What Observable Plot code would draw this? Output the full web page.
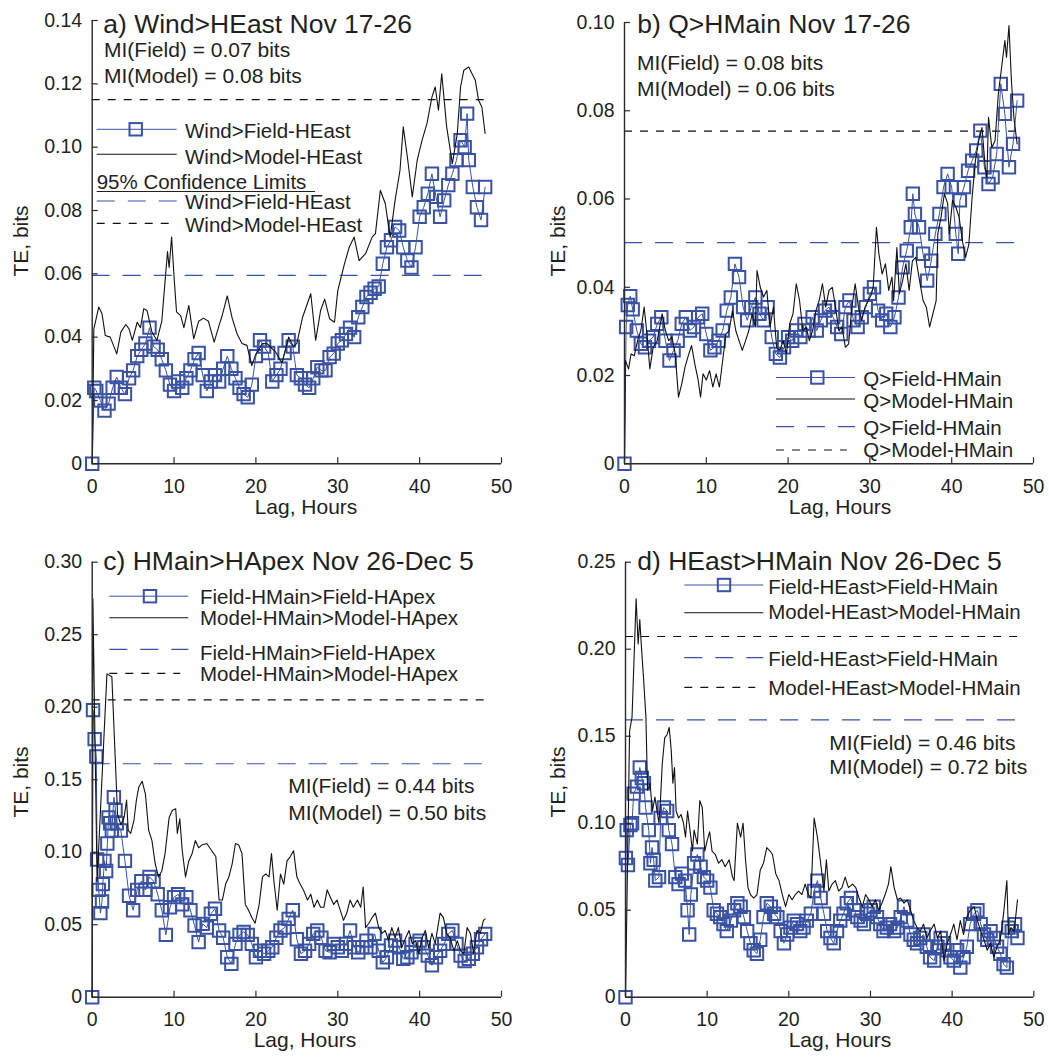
<!DOCTYPE html>
<html>
<head>
<meta charset="utf-8">
<script src="https://cdn.jsdelivr.net/npm/d3@7"></script>
<script src="https://cdn.jsdelivr.net/npm/@observablehq/plot@0.6"></script>
<style>
  html, body { margin: 0; padding: 0; background: #fff; }
  #wrap { position: relative; width: 1049px; height: 1059px; overflow: hidden; background: #fff; }
  .panel { position: absolute; }
  .panel svg { display: block; }
</style>
</head>
<body>
<div id="wrap"></div>
<script>
// ---------------- DATA ----------------
const lagTicks = [0, 10, 20, 30, 40, 50];
const yTicksA = [0, 0.02, 0.04, 0.06, 0.08, 0.10, 0.12, 0.14];
const yTicksB = [0, 0.02, 0.04, 0.06, 0.08, 0.10];
const yTicksC = [0, 0.05, 0.10, 0.15, 0.20, 0.25, 0.30];
const yTicksD = [0, 0.05, 0.10, 0.15, 0.20, 0.25];

const titles = ["a) Wind>HEast Nov 17-26", "b) Q>HMain Nov 17-26", "c) HMain>HApex Nov 26-Dec 5", "d) HEast>HMain Nov 26-Dec 5"];
const miField = ["MI(Field) = 0.07 bits", "MI(Field) = 0.08 bits", "MI(Field) = 0.44 bits", "MI(Field) = 0.46 bits"];
const miModel = ["MI(Model) = 0.08 bits", "MI(Model) = 0.06 bits", "MI(Model) = 0.50 bits", "MI(Model) = 0.72 bits"];
const legendA = ["Wind>Field-HEast", "Wind>Model-HEast", "Wind>Field-HEast", "Wind>Model-HEast"];
const legendB = ["Q>Field-HMain", "Q>Model-HMain", "Q>Field-HMain", "Q>Model-HMain"];
const legendC = ["Field-HMain>Field-HApex", "Model-HMain>Model-HApex", "Field-HMain>Field-HApex", "Model-HMain>Model-HApex"];
const legendD = ["Field-HEast>Field-HMain", "Model-HEast>Model-HMain", "Field-HEast>Field-HMain", "Model-HEast>Model-HMain"];
const confHeading = "95% Confidence Limits";
const xLabel = "Lag, Hours";
const yLabel = "TE, bits";

// 95% confidence limits [panel a, b, c, d]
const ciField = [0.0595, 0.0501, 0.161, 0.1594];
const ciModel = [0.115, 0.0754, 0.2051, 0.2073];

// [lag hours, TE bits]
const fieldA = [[0,0],[0.25,0.024],[0.5,0.023],[1,0.020],[1.5,0.0168],[2,0.019],[2.5,0.024],[3,0.0274],[3.5,0.024],[4,0.022],[4.5,0.027],[5,0.0295],[5.5,0.034],[6,0.036],[6.5,0.038],[7,0.043],[7.5,0.037],[8,0.036],[8.5,0.033],[9,0.0295],[9.5,0.025],[10,0.023],[10.5,0.026],[11,0.024],[11.5,0.027],[12,0.0295],[12.5,0.033],[13,0.035],[13.5,0.028],[14,0.023],[14.5,0.026],[15,0.028],[15.5,0.026],[16,0.030],[16.5,0.034],[17,0.030],[17.5,0.027],[18,0.024],[18.5,0.022],[19,0.021],[19.5,0.025],[20,0.034],[20.5,0.039],[21,0.037],[21.5,0.035],[22,0.026],[22.5,0.028],[23,0.030],[23.5,0.035],[24,0.039],[24.5,0.037],[25,0.028],[25.5,0.027],[26,0.025],[26.5,0.024],[27,0.027],[27.5,0.0305],[28,0.0295],[28.5,0.0295],[29,0.0337],[29.5,0.0348],[30,0.038],[30.5,0.039],[31,0.041],[31.5,0.043],[32,0.040],[32.5,0.0463],[33,0.0495],[33.5,0.0527],[34,0.054],[34.5,0.0553],[35,0.056],[35.5,0.0632],[36,0.0684],[36.5,0.0706],[37,0.0748],[37.5,0.0737],[38,0.0684],[38.5,0.0642],[39,0.062],[39.5,0.0684],[40,0.078],[40.5,0.081],[41,0.0853],[41.5,0.0916],[42,0.0843],[42.5,0.078],[43,0.0832],[43.5,0.088],[44,0.0916],[44.5,0.0959],[45,0.1022],[45.5,0.100],[45.8,0.1106],[46,0.0959],[46.5,0.0874],[47,0.081],[47.5,0.077],[48,0.0874]];
const modelA = [[0,0],[0.2,0.0426],[0.8,0.0495],[1.2,0.0474],[1.6,0.0405],[2.2,0.040],[3.0,0.0347],[3.5,0.0416],[4.1,0.044],[4.5,0.0426],[4.9,0.039],[5.5,0.0447],[5.9,0.043],[6.3,0.049],[6.7,0.0484],[7.3,0.0416],[7.9,0.039],[8.5,0.045],[9.2,0.067],[9.4,0.062],[9.7,0.0716],[10.0,0.059],[10.3,0.048],[10.8,0.0468],[11.2,0.043],[11.8,0.050],[12.4,0.0395],[13.0,0.045],[13.6,0.046],[14.2,0.045],[14.9,0.0384],[15.5,0.0437],[15.9,0.047],[16.5,0.053],[17.1,0.046],[17.7,0.041],[18.3,0.038],[18.9,0.0374],[19.5,0.031],[20.0,0.0347],[20.8,0.038],[21.4,0.0379],[22.4,0.0353],[23.0,0.0326],[23.2,0.032],[24.0,0.040],[24.6,0.037],[25.0,0.038],[25.7,0.0463],[26.7,0.0537],[27.3,0.039],[27.9,0.0484],[28.4,0.052],[29.0,0.0458],[29.6,0.0447],[30.0,0.0547],[30.8,0.063],[31.4,0.0684],[32.0,0.0716],[32.6,0.0642],[33.4,0.0664],[34.2,0.0716],[34.6,0.0727],[35.2,0.0864],[35.8,0.0822],[36.4,0.0716],[37.0,0.0832],[37.6,0.0927],[38.0,0.1064],[38.5,0.0969],[39.1,0.0843],[39.7,0.0958],[40.3,0.1022],[40.9,0.1075],[41.5,0.1158],[41.9,0.119],[42.3,0.1117],[42.7,0.1232],[43.3,0.1064],[44.0,0.0948],[44.6,0.1043],[45.0,0.119],[45.4,0.1243],[46.0,0.1253],[46.4,0.1232],[46.8,0.1211],[47.2,0.1148],[47.6,0.1127],[48.0,0.1043]];

const fieldB = [[0,0],[0.2,0.031],[0.4,0.036],[0.7,0.038],[1,0.035],[1.5,0.0302],[2,0.0272],[2.5,0.0264],[3,0.0279],[3.5,0.0287],[4,0.0317],[4.5,0.0332],[5,0.0279],[5.5,0.0234],[6,0.0257],[6.5,0.0279],[7,0.0317],[7.5,0.0332],[8,0.0302],[8.5,0.031],[9,0.0332],[9.5,0.034],[10,0.0294],[10.5,0.0257],[11,0.0264],[11.5,0.0279],[12,0.0302],[12.5,0.0347],[13,0.0377],[13.5,0.0453],[14,0.0423],[14.5,0.0355],[15,0.0325],[15.5,0.0355],[16,0.0377],[16.5,0.034],[17,0.0325],[17.5,0.0355],[18,0.0287],[18.5,0.0249],[19,0.0241],[19.5,0.0264],[20,0.0287],[20.5,0.0279],[21,0.0302],[21.5,0.0287],[22,0.0317],[22.5,0.0302],[23,0.0332],[23.5,0.0302],[24,0.0325],[24.5,0.0347],[25,0.0355],[25.5,0.0332],[26,0.031],[26.5,0.0294],[27,0.0355],[27.5,0.037],[28,0.0325],[28.5,0.031],[29,0.0332],[29.5,0.0355],[30,0.0385],[30.5,0.040],[31,0.0347],[31.5,0.0325],[32,0.034],[32.5,0.031],[33,0.0332],[33.5,0.0377],[34,0.0445],[34.5,0.0483],[35,0.0536],[35.25,0.0612],[35.5,0.0566],[36,0.0536],[36.5,0.0476],[37,0.0415],[37.5,0.046],[38,0.0521],[38.5,0.0566],[39,0.0627],[39.5,0.0657],[40,0.0627],[40.5,0.0521],[40.8,0.0476],[41,0.0597],[41.5,0.0627],[42,0.0664],[42.5,0.0687],[43,0.071],[43.5,0.0755],[44,0.0672],[44.5,0.0634],[45,0.0649],[45.5,0.0702],[46,0.0861],[46.5,0.0793],[47,0.0672],[47.5,0.0725],[48,0.0823]];
const modelB = [[0,0],[0.1,0.0234],[0.5,0.0215],[0.8,0.0249],[1.2,0.0245],[1.6,0.0279],[2.0,0.0302],[2.4,0.0355],[2.7,0.0302],[3.1,0.0215],[3.5,0.0264],[4.0,0.0279],[4.6,0.034],[5.0,0.0302],[5.4,0.0279],[5.8,0.0287],[6.2,0.0249],[6.6,0.0151],[7.0,0.0181],[7.4,0.0219],[7.8,0.0245],[8.2,0.0268],[8.6,0.0226],[9.0,0.019],[9.3,0.0151],[9.6,0.0204],[10.0,0.019],[10.4,0.0211],[10.8,0.0174],[11.2,0.0204],[11.6,0.0174],[12.0,0.0234],[12.4,0.0294],[12.8,0.0302],[13.2,0.0347],[13.6,0.0302],[14.0,0.0279],[14.4,0.0257],[14.8,0.0279],[15.2,0.0302],[15.6,0.034],[16.0,0.031],[16.2,0.0438],[16.6,0.040],[17.0,0.0378],[17.4,0.0393],[17.8,0.031],[18.2,0.0355],[18.6,0.0264],[19.0,0.0257],[19.4,0.0279],[19.8,0.0249],[20.2,0.0317],[20.6,0.034],[21.0,0.0408],[21.4,0.037],[21.8,0.0302],[22.2,0.031],[22.6,0.0279],[23.0,0.0302],[23.4,0.0347],[23.8,0.037],[24.2,0.0408],[24.6,0.0355],[25.0,0.0393],[25.4,0.040],[25.8,0.0355],[26.2,0.0302],[26.6,0.031],[27.0,0.0264],[27.4,0.0272],[27.8,0.0355],[28.2,0.0408],[28.6,0.0355],[29.0,0.0325],[29.4,0.0355],[29.8,0.037],[30.2,0.0385],[30.4,0.040],[30.8,0.0536],[31.1,0.0476],[31.5,0.043],[31.9,0.0453],[32.3,0.0393],[32.7,0.0423],[32.9,0.037],[33.3,0.049],[33.6,0.0385],[34.0,0.0415],[34.4,0.0453],[34.8,0.0393],[35.2,0.046],[35.6,0.0468],[36.0,0.0423],[36.5,0.037],[36.9,0.0355],[37.3,0.031],[37.7,0.034],[38.1,0.037],[38.3,0.0521],[38.7,0.0559],[39.1,0.0612],[39.5,0.059],[39.7,0.0521],[40.1,0.0597],[40.5,0.0582],[40.9,0.0559],[41.3,0.0506],[41.7,0.0468],[42.1,0.0498],[42.5,0.0605],[42.9,0.0687],[43.3,0.0732],[43.7,0.0762],[44.1,0.0672],[44.3,0.0649],[44.5,0.0785],[44.9,0.0717],[45.3,0.0732],[45.7,0.0838],[46.1,0.0898],[46.5,0.0959],[46.7,0.0921],[47.0,0.0993],[47.3,0.0868],[47.6,0.0785],[48.0,0.0725]];

const fieldC = [[0,0],[0.1,0.198],[0.3,0.178],[0.5,0.166],[0.6,0.095],[0.8,0.074],[1.0,0.058],[1.2,0.066],[1.3,0.078],[1.5,0.094],[1.7,0.087],[1.85,0.106],[2.0,0.124],[2.2,0.12],[2.4,0.115],[2.65,0.138],[2.85,0.129],[3.0,0.120],[3.5,0.115],[4.0,0.094],[4.5,0.070],[5.0,0.060],[5.5,0.074],[6.0,0.080],[6.5,0.074],[7.0,0.083],[7.5,0.080],[8.0,0.071],[8.5,0.060],[9.0,0.043],[9.5,0.062],[10.0,0.069],[10.5,0.071],[11.0,0.064],[11.5,0.069],[12.0,0.060],[12.5,0.0495],[13.0,0.038],[13.5,0.0506],[14.0,0.048],[14.5,0.0575],[15.0,0.061],[15.5,0.046],[16.0,0.041],[16.5,0.0276],[17.0,0.023],[17.5,0.0368],[18.0,0.043],[18.5,0.045],[19.0,0.043],[19.5,0.0368],[20.0,0.0276],[20.5,0.032],[21.0,0.030],[21.5,0.032],[22.0,0.0345],[22.5,0.041],[23.0,0.046],[23.5,0.048],[24.0,0.054],[24.5,0.060],[25.0,0.040],[25.5,0.030],[26.0,0.032],[26.5,0.0368],[27.0,0.0437],[27.5,0.046],[28.0,0.041],[28.5,0.032],[29.0,0.031],[29.5,0.0368],[30.0,0.0345],[30.5,0.032],[31.0,0.0368],[31.5,0.046],[32.0,0.0345],[32.5,0.031],[33.0,0.0345],[33.5,0.039],[34.0,0.0345],[34.5,0.0437],[35.0,0.032],[35.5,0.024],[36.0,0.0276],[36.5,0.0357],[37.0,0.039],[37.5,0.0345],[38.0,0.0265],[38.5,0.0276],[39.0,0.031],[39.5,0.0368],[40.0,0.039],[40.5,0.0345],[41.0,0.0287],[41.5,0.022],[42.0,0.0276],[42.5,0.032],[43.0,0.0368],[43.5,0.0437],[44.0,0.046],[44.5,0.0368],[45.0,0.0287],[45.5,0.025],[46.0,0.0265],[46.5,0.030],[47.0,0.0345],[47.5,0.040],[48.0,0.0437]];
const modelC = [[0,0],[0.08,0.275],[0.6,0.080],[1.8,0.223],[2.4,0.221],[3.1,0.126],[3.5,0.119],[3.9,0.124],[4.2,0.136],[4.4,0.115],[4.7,0.113],[5.1,0.122],[5.4,0.136],[5.7,0.145],[6.1,0.149],[6.5,0.140],[6.9,0.115],[7.3,0.108],[7.7,0.092],[8.1,0.083],[8.5,0.087],[8.9,0.099],[9.4,0.124],[9.8,0.129],[10.2,0.130],[10.4,0.113],[10.7,0.123],[11.0,0.101],[11.4,0.083],[11.8,0.094],[12.2,0.099],[12.6,0.108],[13.0,0.103],[13.4,0.105],[14.0,0.106],[14.6,0.101],[15.1,0.097],[15.5,0.067],[15.9,0.067],[16.3,0.078],[16.7,0.083],[17.1,0.092],[17.5,0.106],[17.9,0.105],[18.3,0.099],[18.7,0.064],[19.1,0.060],[19.5,0.055],[19.9,0.051],[20.4,0.064],[20.8,0.083],[21.2,0.085],[21.6,0.083],[21.9,0.099],[22.2,0.080],[22.6,0.060],[23.0,0.085],[23.4,0.078],[23.8,0.094],[24.2,0.097],[24.6,0.101],[25.0,0.083],[25.4,0.078],[25.8,0.074],[26.3,0.067],[26.7,0.071],[27.1,0.062],[27.5,0.067],[27.9,0.062],[28.3,0.062],[28.7,0.074],[29.1,0.069],[29.5,0.064],[29.9,0.067],[30.3,0.060],[30.7,0.053],[31.1,0.058],[31.5,0.067],[31.9,0.062],[32.4,0.067],[32.8,0.062],[33.1,0.076],[33.4,0.048],[33.8,0.051],[34.2,0.055],[34.6,0.058],[35.0,0.048],[35.4,0.044],[35.8,0.046],[36.2,0.039],[36.6,0.048],[37.0,0.041],[37.4,0.048],[37.8,0.034],[38.3,0.041],[38.7,0.046],[39.1,0.037],[39.5,0.039],[39.9,0.030],[40.3,0.041],[40.7,0.046],[41.1,0.034],[41.5,0.044],[41.9,0.037],[42.5,0.058],[42.9,0.055],[43.3,0.044],[43.7,0.041],[44.2,0.032],[44.6,0.039],[45.0,0.032],[45.4,0.030],[45.8,0.048],[46.2,0.044],[46.6,0.030],[47.0,0.046],[47.4,0.044],[47.8,0.053],[48.0,0.054]];

const fieldD = [[0,0],[0.05,0.080],[0.15,0.096],[0.3,0.076],[0.6,0.099],[0.8,0.100],[1.0,0.117],[1.4,0.121],[1.75,0.132],[2.0,0.126],[2.25,0.123],[2.45,0.109],[2.85,0.096],[3.05,0.077],[3.25,0.086],[3.45,0.079],[3.65,0.067],[4.1,0.069],[4.3,0.103],[4.7,0.109],[5.1,0.107],[5.3,0.096],[5.7,0.088],[6.1,0.069],[6.5,0.065],[6.9,0.071],[7.3,0.067],[7.6,0.050],[7.8,0.036],[8.0,0.059],[8.4,0.077],[8.8,0.082],[9.2,0.075],[9.6,0.069],[10.0,0.067],[10.4,0.063],[10.8,0.050],[11.2,0.048],[11.6,0.046],[12.0,0.042],[12.4,0.038],[12.9,0.044],[13.3,0.050],[13.7,0.054],[14.1,0.052],[14.5,0.046],[14.9,0.038],[15.3,0.031],[15.7,0.027],[16.1,0.025],[16.5,0.033],[16.9,0.046],[17.3,0.054],[17.8,0.052],[18.2,0.048],[18.6,0.046],[19.0,0.038],[19.4,0.031],[19.8,0.036],[20.2,0.040],[20.6,0.044],[21.0,0.042],[21.4,0.038],[21.8,0.040],[22.2,0.044],[22.7,0.048],[23.1,0.061],[23.5,0.067],[23.9,0.057],[24.3,0.048],[24.7,0.038],[25.1,0.034],[25.5,0.031],[25.9,0.038],[26.3,0.044],[26.7,0.048],[27.1,0.054],[27.6,0.057],[28.0,0.050],[28.4,0.046],[28.8,0.044],[29.2,0.042],[29.6,0.048],[30.0,0.050],[30.4,0.052],[30.8,0.046],[31.2,0.042],[31.6,0.038],[32.0,0.040],[32.4,0.042],[32.9,0.038],[33.3,0.040],[33.7,0.046],[34.1,0.052],[34.5,0.044],[34.9,0.036],[35.3,0.033],[35.7,0.031],[36.1,0.034],[36.5,0.036],[36.9,0.029],[37.3,0.023],[37.8,0.021],[38.2,0.029],[38.6,0.034],[39.0,0.031],[39.4,0.027],[39.8,0.023],[40.2,0.021],[40.6,0.027],[41.0,0.017],[41.4,0.023],[41.8,0.029],[42.2,0.042],[42.7,0.048],[43.1,0.050],[43.5,0.042],[43.9,0.036],[44.3,0.033],[44.7,0.038],[45.1,0.034],[45.5,0.029],[45.9,0.025],[46.3,0.019],[46.7,0.017],[46.9,0.040],[47.3,0.038],[47.7,0.042],[48.0,0.034]];
const modelD = [[0,0],[0.5,0.153],[0.8,0.161],[1.0,0.188],[1.3,0.229],[1.55,0.203],[1.75,0.217],[1.9,0.205],[2.2,0.184],[2.5,0.161],[2.7,0.119],[3.0,0.123],[3.3,0.107],[3.6,0.115],[3.8,0.109],[4.1,0.100],[4.3,0.115],[4.5,0.134],[4.8,0.149],[5.1,0.151],[5.35,0.155],[5.6,0.142],[5.8,0.123],[6.0,0.132],[6.2,0.107],[6.5,0.103],[6.8,0.105],[7.1,0.100],[7.35,0.092],[7.6,0.107],[7.9,0.096],[8.2,0.084],[8.4,0.096],[8.8,0.088],[9.1,0.113],[9.4,0.109],[9.7,0.084],[10.0,0.090],[10.3,0.095],[10.6,0.084],[11.0,0.082],[11.4,0.077],[11.8,0.079],[12.2,0.075],[12.7,0.079],[13.1,0.069],[13.3,0.067],[13.7,0.100],[14.1,0.092],[14.4,0.100],[14.7,0.079],[15.0,0.063],[15.3,0.059],[15.7,0.057],[16.1,0.059],[16.5,0.073],[16.9,0.077],[17.3,0.086],[17.7,0.084],[18.0,0.082],[18.4,0.071],[18.8,0.067],[19.2,0.059],[19.6,0.052],[20.0,0.059],[20.4,0.056],[20.8,0.059],[21.2,0.061],[21.6,0.059],[22.0,0.065],[22.4,0.059],[22.7,0.057],[23.1,0.103],[23.5,0.092],[23.9,0.077],[24.3,0.061],[24.6,0.079],[24.9,0.061],[25.3,0.065],[25.7,0.067],[26.1,0.061],[26.5,0.063],[26.9,0.069],[27.3,0.063],[27.8,0.065],[28.2,0.063],[28.6,0.057],[29.0,0.052],[29.4,0.059],[29.8,0.056],[30.2,0.052],[30.6,0.056],[31.0,0.050],[31.4,0.054],[31.8,0.059],[32.2,0.065],[32.5,0.075],[32.9,0.063],[33.3,0.056],[33.7,0.057],[34.1,0.054],[34.5,0.056],[34.9,0.050],[35.3,0.044],[35.7,0.040],[36.1,0.038],[36.5,0.042],[36.9,0.034],[37.3,0.038],[37.8,0.042],[38.2,0.034],[38.6,0.038],[39.0,0.021],[39.4,0.031],[39.8,0.036],[40.2,0.042],[40.6,0.033],[41.0,0.044],[41.4,0.036],[41.8,0.046],[42.2,0.050],[42.7,0.052],[43.1,0.044],[43.5,0.038],[43.9,0.033],[44.3,0.027],[44.7,0.031],[45.1,0.023],[45.5,0.029],[45.9,0.033],[46.3,0.048],[46.7,0.067],[46.9,0.036],[47.2,0.040],[47.6,0.038],[48.0,0.056]];

// ---------------- STYLE / LAYOUT ----------------
const FONT = '"Liberation Sans", Arial, Helvetica, sans-serif';
const BLUE = "#3952a4";
const BLACK = "#111111";
const AX = "#2b2b2b";
const TXT = "#231f20";
const FS = 21;        // annotation text size
const FS_LEG = 20.5;  // legend text size
const FS_TITLE = 26.5;
const FS_TICK = 19.5;
const fmtY = d => d === 0 ? "0" : d.toFixed(2);

const panels = [
  { left: 0, top: 0, width: 524, height: 530, ml: 91.7, mr: 23, mt: 20, mb: 66.7,
    yTicks: yTicksA, field: fieldA, model: modelA, ci: 0, legend: legendA,
    titleXY: [103.3, 32.5], mi: [104, 56.5, 82.5], yLab: [28, 241], xLab: [306, 514],
    leg: { x1: 96.7, x2: 176.7, mx: 135.7, tx: 185,
           rows: [[129.3, 138.3], [154.3, 163.8], [201, 209], [223.3, 232.3]],
           heading: [96.7, 189, 315, 191.5] } },
  { left: 524, top: 0, width: 525, height: 530, ml: 100, mr: 16, mt: 22, mb: 66.7,
    yTicks: yTicksB, field: fieldB, model: modelB, ci: 1, legend: legendB,
    titleXY: [113.3, 32.5], mi: [113, 69.5, 95.5], yLab: [41, 241], xLab: [316, 514],
    leg: { x1: 252, x2: 331, mx: 293.3, tx: 339.3,
           rows: [[377.5, 386], [399, 407.5], [426.7, 434.5], [450, 456.5]] } },
  { left: 0, top: 530, width: 524, height: 529, ml: 91.7, mr: 23, mt: 31.7, mb: 62.3,
    yTicks: yTicksC, field: fieldC, model: modelC, ci: 2, legend: legendC,
    titleXY: [103.3, 40], mi: [288.3, 263, 289.5], yLab: [28, 252], xLab: [305, 517],
    leg: { x1: 109.3, x2: 188.3, mx: 150, tx: 200,
           rows: [[66.2, 73.5], [87.8, 95.2], [119.3, 129.5], [143.3, 150.5]] } },
  { left: 524, top: 530, width: 525, height: 529, ml: 101, mr: 15.7, mt: 31.7, mb: 62.3,
    yTicks: yTicksD, field: fieldD, model: modelD, ci: 3, legend: legendD,
    titleXY: [113.3, 39.5], mi: [305.3, 219.5, 244], yLab: [41, 252], xLab: [316, 517],
    leg: { x1: 160.3, x2: 239.3, mx: 200, tx: 244.3,
           rows: [[55, 63.5], [82.7, 89], [127.7, 136.2], [157.3, 165]] } }
];

const wrap = document.getElementById("wrap");
const X = d => d[0], Y = d => d[1];

panels.forEach((p, i) => {
  const pw = p.width - p.ml - p.mr;
  const ph = p.height - p.mt - p.mb;
  const end = p.field[p.field.length - 1][0];
  const yMax = p.yTicks[p.yTicks.length - 1];

  const svg = Plot.plot({
    width: p.width, height: p.height,
    marginLeft: p.ml, marginRight: p.mr, marginTop: p.mt, marginBottom: p.mb,
    style: { fontFamily: FONT, background: "#fff", color: TXT, overflow: "visible" },
    x: { domain: [0, 50] },
    y: { domain: [0, yMax] },
    marks: [
      Plot.ruleY([ciField[p.ci]], { x1: 0, x2: end, stroke: BLUE, strokeWidth: 1.2, strokeDasharray: "18,13" }),
      Plot.ruleY([ciModel[p.ci]], { x1: 0, x2: end, stroke: BLACK, strokeWidth: 1.2, strokeDasharray: "8,8" }),
      Plot.line(p.field, { x: X, y: Y, stroke: BLUE, strokeWidth: 1 }),
      Plot.dot(p.field, { x: X, y: Y, symbol: "square", r: 7, stroke: BLUE, strokeWidth: 2, fill: "none" }),
      Plot.line(p.model, { x: X, y: Y, stroke: BLACK, strokeWidth: 1.1 }),
      Plot.ruleX([0], { stroke: AX, strokeWidth: 1.4 }),
      Plot.ruleY([0], { stroke: AX, strokeWidth: 1.4 }),
      Plot.tickY(p.yTicks, { y: d => d, insetRight: pw - 6, stroke: AX, strokeWidth: 1.2 }),
      Plot.tickX(lagTicks, { x: d => d, insetTop: ph - 6, stroke: AX, strokeWidth: 1.2 }),
      Plot.axisY(p.yTicks, { tickSize: 0, tickPadding: 10, tickFormat: fmtY, fontSize: FS_TICK, label: null, fill: TXT }),
      Plot.axisX(lagTicks, { tickSize: 0, tickPadding: 15, tickFormat: d => String(d), fontSize: FS_TICK, label: null, fill: TXT })
    ]
  });

  const s = d3.select(svg);
  const g = s.append("g").attr("font-family", FONT).attr("fill", TXT).attr("text-anchor", "start");

  // title and MI annotations
  g.append("text").attr("x", p.titleXY[0]).attr("y", p.titleXY[1]).attr("font-size", FS_TITLE).attr("text-anchor", "start").text(titles[i]);
  g.append("text").attr("x", p.mi[0]).attr("y", p.mi[1]).attr("font-size", FS).attr("text-anchor", "start").text(miField[i]);
  g.append("text").attr("x", p.mi[0]).attr("y", p.mi[2]).attr("font-size", FS).attr("text-anchor", "start").text(miModel[i]);

  // axis titles
  g.append("text").attr("x", p.xLab[0]).attr("y", p.xLab[1]).attr("font-size", FS)
    .attr("text-anchor", "middle").text(xLabel);
  g.append("text").attr("transform", `translate(${p.yLab[0]},${p.yLab[1]}) rotate(-90)`)
    .attr("font-size", FS).attr("text-anchor", "middle").text(yLabel);

  // legend
  const L = p.leg;
  const side = 7 * Math.sqrt(Math.PI);
  const r = L.rows;
  g.append("line").attr("x1", L.x1).attr("x2", L.x2).attr("y1", r[0][0]).attr("y2", r[0][0])
    .attr("stroke", BLUE).attr("stroke-width", 1);
  g.append("rect").attr("x", L.mx - side / 2).attr("y", r[0][0] - side / 2).attr("width", side).attr("height", side)
    .attr("fill", "none").attr("stroke", BLUE).attr("stroke-width", 2);
  g.append("line").attr("x1", L.x1).attr("x2", L.x2).attr("y1", r[1][0]).attr("y2", r[1][0])
    .attr("stroke", BLACK).attr("stroke-width", 1.1);
  g.append("line").attr("x1", L.x1).attr("x2", L.x2).attr("y1", r[2][0]).attr("y2", r[2][0])
    .attr("stroke", BLUE).attr("stroke-width", 1.2).attr("stroke-dasharray", "18,13");
  g.append("line").attr("x1", L.x1).attr("x2", L.x2 - 8).attr("y1", r[3][0]).attr("y2", r[3][0])
    .attr("stroke", BLACK).attr("stroke-width", 1.2).attr("stroke-dasharray", "8,8");
  r.forEach((row, k) => {
    g.append("text").attr("x", L.tx).attr("y", row[1]).attr("font-size", FS_LEG).attr("text-anchor", "start").text(p.legend[k]);
  });
  if (L.heading) {
    const h = L.heading;
    g.append("text").attr("x", h[0]).attr("y", h[1]).attr("font-size", FS_LEG).attr("text-anchor", "start").text(confHeading);
    g.append("line").attr("x1", h[0]).attr("x2", h[2]).attr("y1", h[3]).attr("y2", h[3])
      .attr("stroke", TXT).attr("stroke-width", 1.2);
  }

  const div = document.createElement("div");
  div.className = "panel";
  div.style.left = p.left + "px";
  div.style.top = p.top + "px";
  div.style.width = p.width + "px";
  div.style.height = p.height + "px";
  div.appendChild(svg);
  wrap.appendChild(div);
});
</script>
</body>
</html>
